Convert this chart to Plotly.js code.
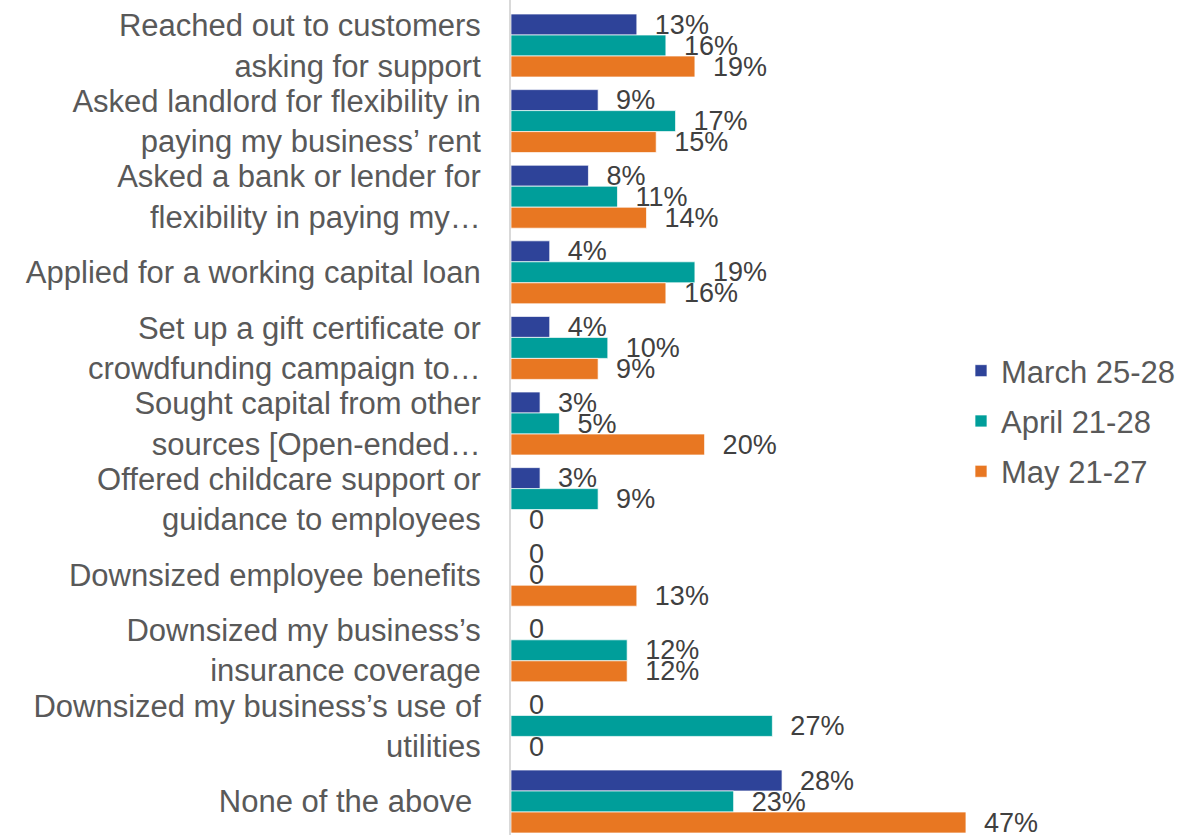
<!DOCTYPE html>
<html>
<head>
<meta charset="utf-8">
<script src="https://cdn.plot.ly/plotly-3.0.1.min.js"></script>
<style>html,body{margin:0;padding:0;background:#fff;}#chart{width:1181px;height:835px;}</style>
</head>
<body>
<div id="chart"></div>
<script>
const categories = [
  "Reached out to customers<br>asking for support",
  "Asked landlord for flexibility in<br>paying my business\u2019 rent",
  "Asked a bank or lender for<br>flexibility in paying my\u2026",
  "Applied for a working capital loan",
  "Set up a gift certificate or<br>crowdfunding campaign to\u2026",
  "Sought capital from other<br>sources [Open-ended\u2026",
  "Offered childcare support or<br>guidance to employees",
  "Downsized employee benefits",
  "Downsized my business\u2019s<br>insurance coverage",
  "Downsized my business\u2019s use of<br>utilities",
  "None of the above\u00a0"
];
const seriesNames = ["March 25-28", "April 21-28", "May 21-27"];
const march = [13, 9, 8, 4, 4, 3, 3, 0, 0, 0, 28];
const april = [16, 17, 11, 19, 10, 5, 9, 0, 12, 27, 23];
const may   = [19, 15, 14, 16, 9, 20, 0, 13, 12, 0, 47];
const colors = ["#2E4399", "#009E9A", "#E87722"];

function label(v){ return "\u00a0\u00a0" + (v === 0 ? "0" : v + "%"); }

const FONT = "Liberation Sans, Arial, sans-serif";

const data = [march, april, may].map((vals, i) => ({
  type: "bar",
  orientation: "h",
  name: seriesNames[i],
  y: categories,
  x: vals,
  text: vals.map(label),
  textposition: "outside",
  constraintext: "none",
  cliponaxis: false,
  textfont: {family: FONT, size: 27, color: "#404040"},
  marker: {color: colors[i], line: {color: "rgba(255,255,255,0.7)", width: 1}},
  legendgroup: "g" + i,
  hoverinfo: "skip"
}));

const layout = {
  width: 1181, height: 835,
  margin: {l: 511, r: 186, t: 0, b: 0, pad: 0},
  paper_bgcolor: "#fff", plot_bgcolor: "#fff",
  barmode: "group",
  bargap: 0.167,
  bargroupgap: 0,
  font: {family: FONT, color: "#595959"},
  xaxis: {range: [0, 50], visible: false, fixedrange: true},
  yaxis: {
    type: "category",
    range: [10.443, -0.602],
    showline: true, linecolor: "#D9D9D9", linewidth: 2,
    showgrid: false, zeroline: false,
    ticks: "",
    ticklabelstandoff: 22,
    tickfont: {size: 31, color: "#595959", family: FONT}
  },
  showlegend: true,
  legend: {
    x: 0.93, xanchor: "left", y: 0.588, yanchor: "top",
    font: {size: 31, color: "#595959", family: FONT},
    tracegroupgap: 7,
    bgcolor: "rgba(0,0,0,0)",
    traceorder: "grouped"
  }
};

Plotly.newPlot("chart", data, layout, {staticPlot: true, displayModeBar: false});
</script>
</body>
</html>
